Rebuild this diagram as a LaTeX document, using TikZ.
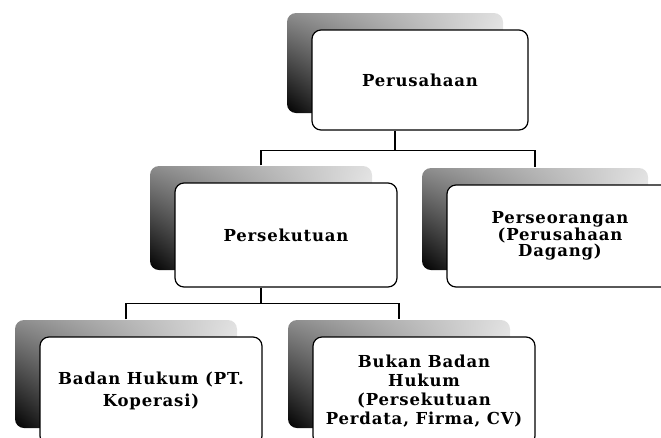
\documentclass[tikz,border=0pt]{standalone}
\usepackage{fontspec}
\newfontfamily\boxfont[LetterSpace=5]{DejaVu Serif}
\usetikzlibrary{positioning,shadows,shadings}
\tikzset{
  orgbox/.style={rectangle, rounded corners=9pt, draw=black, line width=1.2pt, fill=white,
                 minimum width=222pt, minimum height=104pt, align=center, inner sep=2pt,
                 font=\boxfont\bfseries\fontsize{16.5}{17}\selectfont,
                 general shadow={draw=none, shadow xshift=-25pt, shadow yshift=17pt,
                   upper left=black!45, upper right=black!12, lower left=black, lower right=white}},
  link/.style={draw=black, line width=1.2pt},
}
\begin{document}
\begin{tikzpicture}[x=1pt, y=-1pt]
  \useasboundingbox (0,0) rectangle (661,437);
  \clip (0,0) rectangle (661,437);
  % top level
  \node[orgbox, minimum width=216pt, minimum height=100pt] (perusahaan) at (420,80) {Perusahaan};
  % second level
  \node[orgbox] (persekutuan) at (286,235) {Persekutuan};
  \node[orgbox, minimum width=226pt, minimum height=102pt,
        font=\boxfont\bfseries\fontsize{16.5}{14}\selectfont] (perseorangan) at (560,236)
        {Perseorangan\\(Perusahaan\\Dagang)};
  % third level
  \node[orgbox, minimum height=108pt, font=\boxfont\bfseries\fontsize{16.5}{22}\selectfont]
        (badanhukum) at (151,391) {Badan Hukum (PT.\\Koperasi)};
  \node[orgbox, minimum height=108pt, font=\boxfont\bfseries\fontsize{16.5}{19}\selectfont]
        (bukanbadan) at (424,391) {Bukan Badan\\Hukum\\(Persekutuan\\Perdata, Firma, CV)};
  % connectors
  \coordinate (bus1) at ([xshift=-25pt, yshift=-20pt]perusahaan.south);
  \draw[link] ([xshift=-25pt]perusahaan.south) -- (bus1);
  \draw[link] ([xshift=-25pt, yshift=17pt]persekutuan.north) |- (bus1)
              -| ([xshift=-25pt, yshift=17pt]perseorangan.north);
  \coordinate (bus2) at ([xshift=-25pt, yshift=-16pt]persekutuan.south);
  \draw[link] ([xshift=-25pt]persekutuan.south) -- (bus2);
  \draw[link] ([xshift=-25pt, yshift=17pt]badanhukum.north) |- (bus2)
              -| ([xshift=-25pt, yshift=17pt]bukanbadan.north);
\end{tikzpicture}
\end{document}
